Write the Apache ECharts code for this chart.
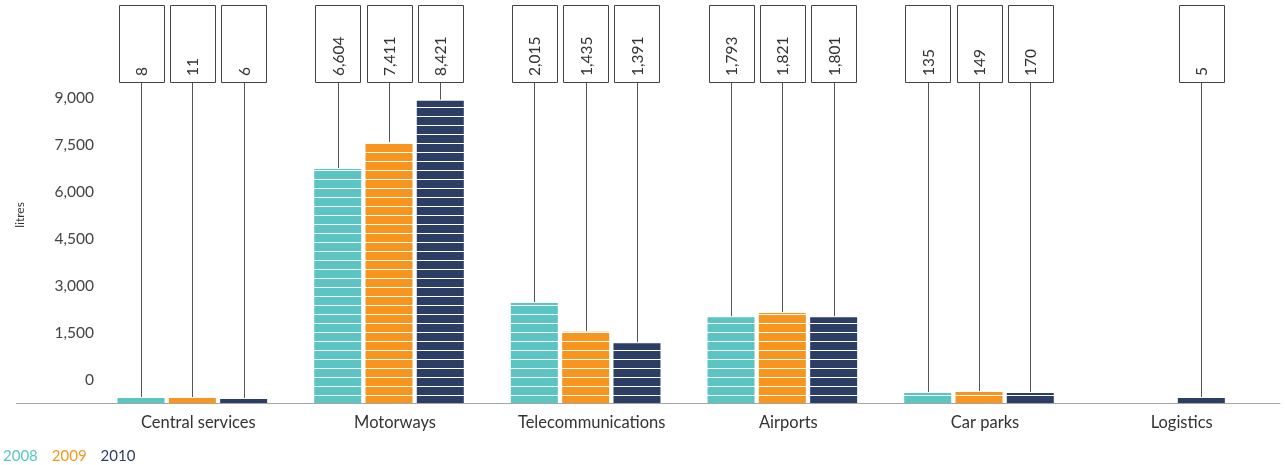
<!DOCTYPE html>
<html><head><meta charset="utf-8">
<script src="https://cdn.jsdelivr.net/npm/echarts@6/dist/echarts.min.js"></script>
<style>html,body{margin:0;padding:0;background:#fff}#c{width:1285px;height:465px}</style>
</head><body><div id="c"></div>
<script>
// ---- data ----
const categories = ['Central services', 'Motorways', 'Telecommunications', 'Airports', 'Car parks', 'Logistics'];
const years = ['2008', '2009', '2010'];
// values written in the label boxes (litres)
const labels2008 = [8, 6604, 2015, 1793, 135, null];
const labels2009 = [11, 7411, 1435, 1821, 149, null];
const labels2010 = [6, 8421, 1391, 1801, 170, 5];
// bar heights as drawn, read against the axis
const bars2008 = [160, 7470, 3190, 2740, 320, null];
const bars2009 = [160, 8300, 2270, 2870, 350, 0];
const bars2010 = [130, 9650, 1910, 2740, 320, 160];
const yTickLabels = [0, 1500, 3000, 4500, 6000, 7500, 9000];

// ---- style ----
const colors = ['#5bc5c3', '#f7951f', '#2c3e66'];
const FONT = 'Lato';
const barSets = [bars2008, bars2009, bars2010];
const labelSets = [labels2008, labels2009, labels2010];
const BAR_W = 47, STEP = 51.3, SHIFT = -6;

function stripe(color) {
  const c = document.createElement('canvas');
  c.width = 4; c.height = 9;
  const g = c.getContext('2d');
  g.fillStyle = color; g.fillRect(0, 0, 4, 9);
  g.fillStyle = '#ffffff'; g.fillRect(0, 8, 4, 1);
  return { image: c, repeat: 'repeat' };
}
const patterns = colors.map(stripe);

function makeRender(s) {
  return function (params, api) {
    const ci = api.value(0), v = api.value(1);
    const slots = [0, 1, 2].filter(k => barSets[k][ci] != null);
    const idx = slots.indexOf(s), n = slots.length;
    const base = api.coord([ci, 0]);
    const top = api.coord([ci, v]);
    const xc = base[0] + SHIFT + (idx - (n - 1) / 2) * STEP;
    const children = [];
    const h = base[1] - top[1];
    if (h > 0) {
      children.push({ type: 'rect', shape: { x: xc - BAR_W / 2, y: top[1], width: BAR_W, height: h },
        style: { fill: patterns[s] } });
    }
    const lab = labelSets[s][ci];
    if (lab != null) {
      const lx = Math.round(xc) + 0.5;
      children.push({ type: 'line', shape: { x1: lx, y1: 82.5, x2: lx, y2: top[1] - 1 },
        style: { stroke: '#555', lineWidth: 1 } });
      children.push({ type: 'rect', shape: { x: Math.round(xc - 22.5) + 0.5, y: 5.5, width: 45, height: 77 },
        style: { fill: '#fff', stroke: '#444', lineWidth: 1 } });
      children.push({ type: 'text', x: lx, y: 76, rotation: Math.PI / 2,
        style: { text: lab.toLocaleString('en-US'), x: 0, y: 0, align: 'left', verticalAlign: 'middle',
          fill: '#333', fontSize: 15.5, fontFamily: FONT } });
    }
    return { type: 'group', children };
  };
}

const chart = echarts.init(document.getElementById('c'), null, { renderer: 'canvas' });
chart.setOption({
  animation: false,
  backgroundColor: '#fff',
  color: colors,
  grid: { left: 100, right: 5, top: 27, bottom: 62, containLabel: false, outerBoundsMode: 'none' },
  legend: {
    left: -7, top: 444, itemWidth: 0, itemHeight: 0, itemGap: 9,
    textStyle: { fontSize: 15, fontFamily: FONT },
    data: years.map((y, i) => ({ name: y, icon: 'rect', textStyle: { color: colors[i] } }))
  },
  xAxis: {
    type: 'category', data: categories,
    axisTick: { show: false },
    axisLine: { lineStyle: { color: '#a6a6a6', width: 1 } },
    axisLabel: { color: '#333', fontSize: 16.5, fontFamily: FONT, margin: 11 },
    splitLine: { show: false }
  },
  yAxis: {
    type: 'value', min: 0, max: 12000, interval: 1500,
    name: 'litres', nameLocation: 'middle', nameRotate: 90, nameGap: 74,
    nameTextStyle: { color: '#333', fontSize: 12, fontFamily: FONT },
    axisLine: { show: false }, axisTick: { show: false }, splitLine: { show: false },
    axisLabel: {
      color: '#444', fontSize: 15.5, fontFamily: FONT, margin: 6,
      verticalAlign: 'bottom', lineHeight: 46,
      formatter: v => yTickLabels.indexOf(v) >= 0 ? v.toLocaleString('en-US') : ''
    }
  },
  graphic: [{ type: 'line', shape: { x1: 16, y1: 403.5, x2: 100, y2: 403.5 },
    style: { stroke: '#a6a6a6', lineWidth: 1 }, silent: true }],
  series: years.map((y, s) => ({
    name: y, type: 'custom', clip: false,
    itemStyle: { color: colors[s] },
    encode: { x: 0, y: 1 },
    renderItem: makeRender(s),
    data: categories.map((c, i) => barSets[s][i] == null ? null : [i, barSets[s][i]]).filter(d => d)
  }))
});
</script></body></html>
